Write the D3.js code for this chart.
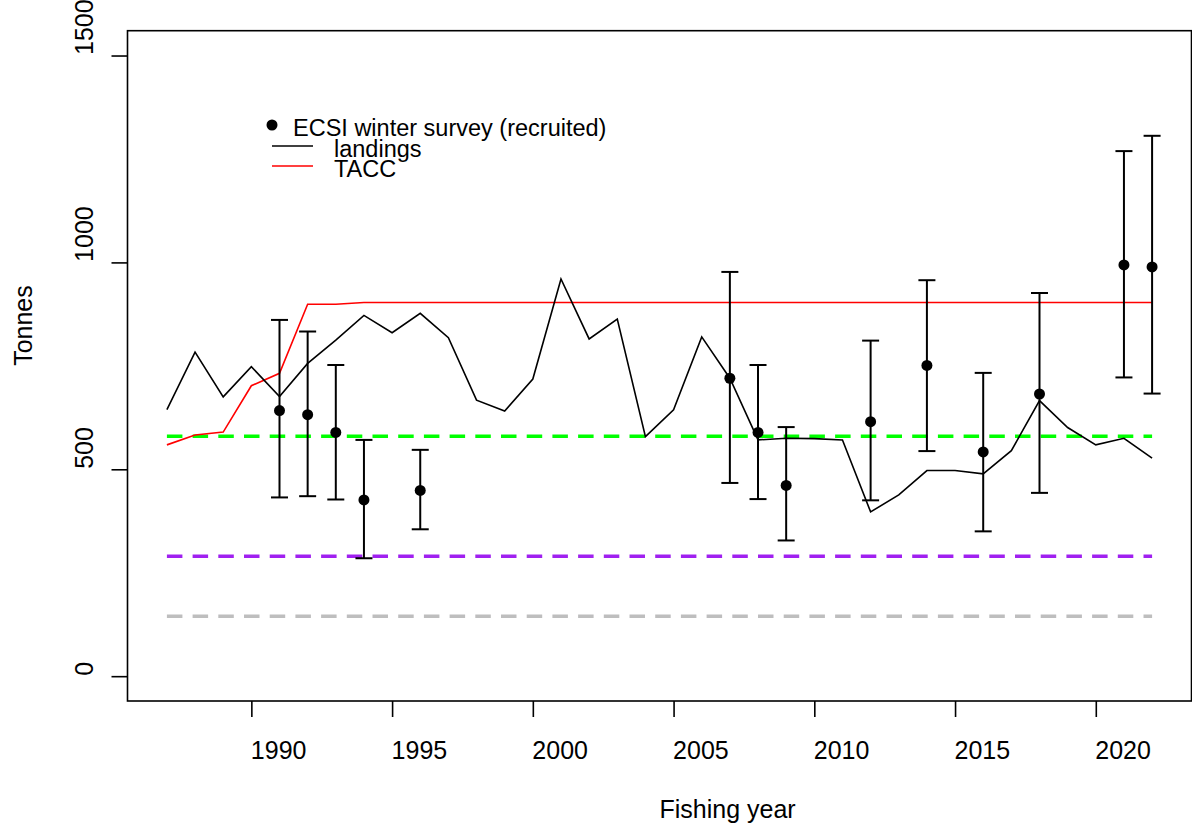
<!DOCTYPE html>
<html>
<head>
<meta charset="utf-8">
<script src="https://cdn.jsdelivr.net/npm/d3@7"></script>
<style>
  html, body { margin: 0; padding: 0; background: #fff; }
  svg { display: block; font-family: "Liberation Sans", Arial, sans-serif; }
</style>
</head>
<body>
<svg id="chart" width="1192" height="828"></svg>
<script>
// Fishing years
const landingYears = d3.range(1987, 2023);
// Reported landings (t)
const landings = [644, 783, 675, 748, 676, 756, 812, 872, 830, 877, 818, 667,
                  641, 718, 960, 815, 863, 579, 644, 820, 720, 571, 575, 574,
                  571, 397, 438, 497, 497, 489, 545, 666, 601, 559, 575, 527];
// Total allowable commercial catch (t)
const tacc = [559, 583, 590, 702, 732, 899, 899, 903, 903, 903, 903, 903,
              903, 903, 903, 903, 903, 903, 903, 903, 903, 903, 903, 903,
              903, 903, 903, 903, 903, 903, 903, 903, 903, 903, 903, 903];
// ECSI winter survey recruited biomass with interval bounds
const surveyYears = [1991, 1992, 1993, 1994, 1996, 2007, 2008, 2009, 2012, 2014, 2016, 2018, 2021, 2022];
const surveyBiomass = [642, 632, 589, 426, 449, 720, 589, 461, 615, 751, 542, 682, 994, 989];
const surveyLower = [432, 435, 427, 285, 355, 467, 428, 328, 425, 544, 350, 443, 722, 683];
const surveyUpper = [861, 833, 752, 571, 547, 977, 752, 602, 811, 957, 733, 926, 1269, 1306];
// Reference levels: target, soft limit, hard limit
const refLevels = [580, 290, 145];
const refColors = ["#00ff00", "#a020f0", "#bebebe"];
// Axis ticks
const xTicks = [1990, 1995, 2000, 2005, 2010, 2015, 2020];
const xTickLabels = ["1990", "1995", "2000", "2005", "2010", "2015", "2020"];
const yTicks = [0, 500, 1000, 1500];
const yTickLabels = ["0", "500", "1000", "1500"];

const svg = d3.select("#chart");
const plotLeft = 127.5, plotRight = 1191.5, plotTop = 30.7, plotBottom = 701;

const x = d3.scaleLinear().domain([1985.6, 2023.4]).range([plotLeft, plotRight]);
const y = d3.scaleLinear().domain([-60, 1560]).range([plotBottom, plotTop]);

const FONT = 25;

// Reference dashed lines
refLevels.forEach((v, i) => {
  svg.append("line")
    .attr("x1", x(1987)).attr("x2", x(2022))
    .attr("y1", y(v)).attr("y2", y(v))
    .attr("stroke", refColors[i])
    .attr("stroke-width", 3.5)
    .attr("stroke-dasharray", "15.5,10.2");
});

// TACC
const line = d3.line().x(d => x(d[0])).y(d => y(d[1]));
svg.append("path")
  .datum(landingYears.map((yr, i) => [yr, tacc[i]]))
  .attr("d", line)
  .attr("fill", "none")
  .attr("stroke", "#ff0000")
  .attr("stroke-width", 1.6);

// Landings
svg.append("path")
  .datum(landingYears.map((yr, i) => [yr, landings[i]]))
  .attr("d", line)
  .attr("fill", "none")
  .attr("stroke", "#000")
  .attr("stroke-width", 1.6)
  .attr("stroke-linejoin", "miter");

// Survey error bars and points
const cap = 8.5;
const survey = surveyYears.map((yr, i) => ({ yr, v: surveyBiomass[i], lo: surveyLower[i], hi: surveyUpper[i] }));
const bars = svg.append("g").attr("stroke", "#000").attr("stroke-width", 2);
survey.forEach(d => {
  bars.append("line").attr("x1", x(d.yr)).attr("x2", x(d.yr)).attr("y1", y(d.lo)).attr("y2", y(d.hi));
  bars.append("line").attr("x1", x(d.yr) - cap).attr("x2", x(d.yr) + cap).attr("y1", y(d.lo)).attr("y2", y(d.lo));
  bars.append("line").attr("x1", x(d.yr) - cap).attr("x2", x(d.yr) + cap).attr("y1", y(d.hi)).attr("y2", y(d.hi));
});
svg.append("g").selectAll("circle").data(survey).join("circle")
  .attr("cx", d => x(d.yr)).attr("cy", d => y(d.v)).attr("r", 5.5).attr("fill", "#000");

// Plot frame
svg.append("rect")
  .attr("x", plotLeft).attr("y", plotTop)
  .attr("width", plotRight - plotLeft).attr("height", plotBottom - plotTop)
  .attr("fill", "none").attr("stroke", "#000").attr("stroke-width", 1.6);

// X axis
const xAxis = svg.append("g")
  .attr("transform", `translate(0,${plotBottom})`)
  .call(d3.axisBottom(x).tickValues(xTicks).tickFormat((d, i) => xTickLabels[i]).tickSize(16).tickPadding(0));
xAxis.select(".domain").remove();
xAxis.selectAll(".tick line").attr("stroke", "#000").attr("stroke-width", 1.6);
xAxis.selectAll(".tick text")
  .attr("y", 58).attr("dy", null).attr("x", -1)
  .attr("text-anchor", "start")
  .attr("font-size", FONT).attr("font-family", "Liberation Sans, Arial, sans-serif")
  .attr("fill", "#000");

// Y axis
const yAxis = svg.append("g")
  .attr("transform", `translate(${plotLeft},0)`)
  .call(d3.axisLeft(y).tickValues(yTicks).tickFormat((d, i) => yTickLabels[i]).tickSize(16).tickPadding(0));
yAxis.select(".domain").remove();
yAxis.selectAll(".tick line").attr("stroke", "#000").attr("stroke-width", 1.6);
yAxis.selectAll(".tick text")
  .attr("x", null).attr("dy", null)
  .attr("transform", "translate(-34.5,-1) rotate(-90)")
  .attr("text-anchor", "start")
  .attr("font-size", FONT).attr("font-family", "Liberation Sans, Arial, sans-serif")
  .attr("fill", "#000");

// Axis titles
svg.append("text")
  .attr("x", (plotLeft + plotRight) / 2).attr("y", 818)
  .attr("text-anchor", "start").attr("font-size", FONT)
  .text("Fishing year");
svg.append("text")
  .attr("transform", `translate(32,${(plotTop + plotBottom) / 2}) rotate(-90)`)
  .attr("text-anchor", "start").attr("font-size", FONT)
  .text("Tonnes");

// Legend
const legend = svg.append("g").attr("font-size", 23.5);
legend.append("circle").attr("cx", 272).attr("cy", 125).attr("r", 5.5).attr("fill", "#000");
legend.append("text").attr("x", 293).attr("y", 135.5).text("ECSI winter survey (recruited)");
legend.append("line").attr("x1", 272).attr("x2", 313).attr("y1", 146).attr("y2", 146)
  .attr("stroke", "#000").attr("stroke-width", 1.6);
legend.append("text").attr("x", 334).attr("y", 156.5).text("landings");
legend.append("line").attr("x1", 272).attr("x2", 313).attr("y1", 166).attr("y2", 166)
  .attr("stroke", "#ff0000").attr("stroke-width", 1.6);
legend.append("text").attr("x", 334).attr("y", 177).text("TACC");
</script>
</body>
</html>
